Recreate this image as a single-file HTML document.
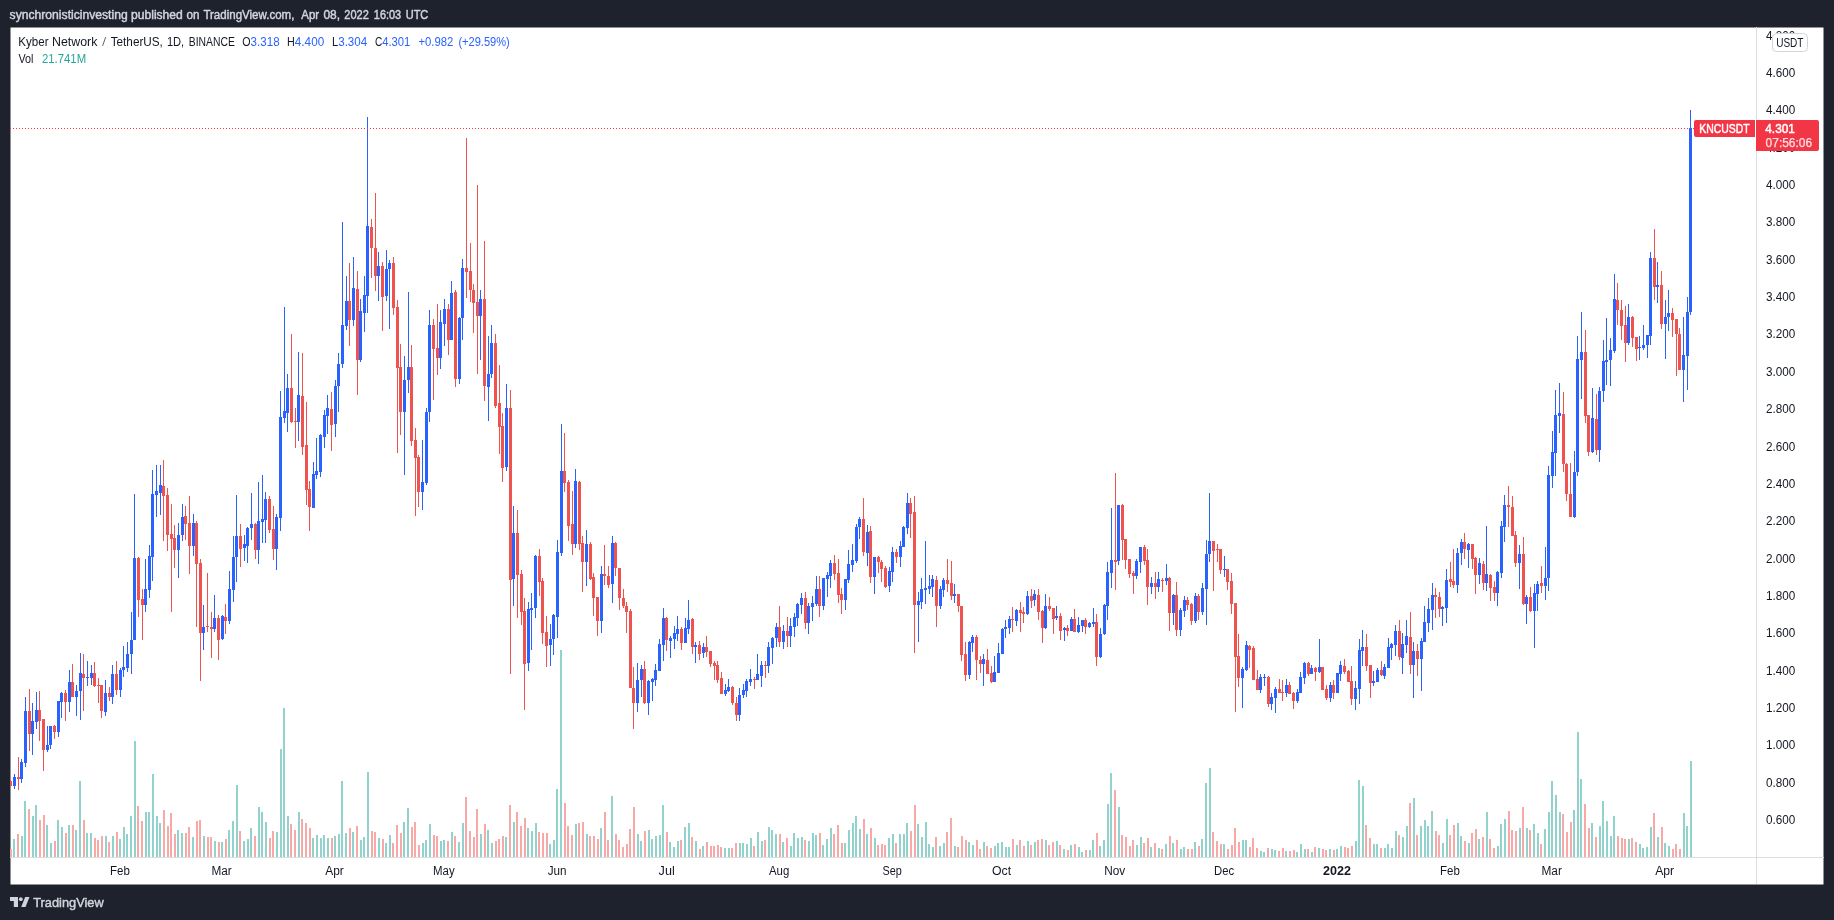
<!DOCTYPE html>
<html><head><meta charset="utf-8"><title>KNCUSDT</title>
<style>
html,body{margin:0;padding:0;background:#1e222d;}
body{width:1834px;height:920px;overflow:hidden;font-family:"Liberation Sans",sans-serif;}
svg{display:block;font-family:"Liberation Sans",sans-serif;}
</style></head><body>
<svg width="1834" height="920" viewBox="0 0 1834 920" style="will-change:transform">
<defs><filter id="gray" x="0" y="0" width="1834" height="920" filterUnits="userSpaceOnUse" color-interpolation-filters="sRGB"><feColorMatrix type="saturate" values="1"/></filter></defs>
<rect x="0" y="0" width="1834" height="920" fill="#1e222d"/>
<rect x="10.5" y="27.5" width="1813" height="857" fill="#ffffff"/>
<g shape-rendering="crispEdges">
<rect x="1756" y="27" width="1" height="857" fill="#dcdde1"/>
<rect x="10" y="857" width="1814" height="1" fill="#dcdde1"/>
<clipPath id="cp"><rect x="10" y="27" width="1746" height="830"/></clipPath>
<g clip-path="url(#cp)">
<path fill="#f7a9a7" d="M10 849h2v8h-2zM17 834h2v23h-2zM28 809h2v48h-2zM39 820h2v37h-2zM43 815h2v42h-2zM54 841h2v16h-2zM65 833h2v24h-2zM72 825h2v32h-2zM83 820h2v37h-2zM94 838h2v19h-2zM97 840h2v17h-2zM101 836h2v21h-2zM108 842h2v15h-2zM116 832h2v25h-2zM137 806h2v51h-2zM141 821h2v36h-2zM163 810h2v47h-2zM167 826h2v31h-2zM170 813h2v44h-2zM174 834h2v23h-2zM185 833h2v24h-2zM188 827h2v30h-2zM196 821h2v36h-2zM199 820h2v37h-2zM207 837h2v20h-2zM210 837h2v20h-2zM218 842h2v15h-2zM225 839h2v18h-2zM239 831h2v26h-2zM254 836h2v21h-2zM269 838h2v19h-2zM272 831h2v26h-2zM290 824h2v33h-2zM294 830h2v27h-2zM301 819h2v38h-2zM305 823h2v34h-2zM309 828h2v29h-2zM331 838h2v19h-2zM349 828h2v29h-2zM356 826h2v31h-2zM371 831h2v26h-2zM374 832h2v25h-2zM382 839h2v18h-2zM392 843h2v14h-2zM396 825h2v32h-2zM400 833h2v24h-2zM411 827h2v30h-2zM414 822h2v35h-2zM418 845h2v12h-2zM433 835h2v22h-2zM436 836h2v21h-2zM447 841h2v16h-2zM454 836h2v21h-2zM465 797h2v60h-2zM469 831h2v26h-2zM473 837h2v20h-2zM476 809h2v48h-2zM484 824h2v33h-2zM495 841h2v16h-2zM498 839h2v18h-2zM502 836h2v21h-2zM509 805h2v52h-2zM516 812h2v45h-2zM520 826h2v31h-2zM524 818h2v39h-2zM538 832h2v25h-2zM542 833h2v24h-2zM546 833h2v24h-2zM564 803h2v54h-2zM567 826h2v31h-2zM571 835h2v22h-2zM578 823h2v34h-2zM582 822h2v35h-2zM589 836h2v21h-2zM593 836h2v21h-2zM597 839h2v18h-2zM604 812h2v45h-2zM607 840h2v17h-2zM615 834h2v23h-2zM618 840h2v17h-2zM622 847h2v10h-2zM626 844h2v13h-2zM629 829h2v28h-2zM633 807h2v50h-2zM644 831h2v26h-2zM666 832h2v25h-2zM680 840h2v17h-2zM691 837h2v20h-2zM699 849h2v8h-2zM706 842h2v15h-2zM710 846h2v11h-2zM713 846h2v11h-2zM717 845h2v12h-2zM720 847h2v10h-2zM731 848h2v9h-2zM735 843h2v14h-2zM753 846h2v11h-2zM764 840h2v17h-2zM779 834h2v23h-2zM786 838h2v19h-2zM804 840h2v17h-2zM819 833h2v24h-2zM833 834h2v23h-2zM837 825h2v32h-2zM841 843h2v14h-2zM863 819h2v38h-2zM870 828h2v29h-2zM877 845h2v12h-2zM881 844h2v13h-2zM884 845h2v12h-2zM895 843h2v14h-2zM910 831h2v26h-2zM914 805h2v52h-2zM935 837h2v20h-2zM946 832h2v25h-2zM950 818h2v39h-2zM957 847h2v10h-2zM961 836h2v21h-2zM965 840h2v17h-2zM976 840h2v17h-2zM979 849h2v8h-2zM986 846h2v11h-2zM990 848h2v9h-2zM1012 839h2v18h-2zM1019 840h2v17h-2zM1023 846h2v11h-2zM1030 845h2v12h-2zM1037 840h2v17h-2zM1041 839h2v18h-2zM1048 845h2v12h-2zM1052 842h2v15h-2zM1059 845h2v12h-2zM1067 850h2v7h-2zM1074 844h2v13h-2zM1085 850h2v7h-2zM1096 833h2v24h-2zM1114 790h2v67h-2zM1121 835h2v22h-2zM1125 837h2v20h-2zM1129 846h2v11h-2zM1132 840h2v17h-2zM1143 843h2v14h-2zM1147 838h2v19h-2zM1154 843h2v14h-2zM1161 849h2v8h-2zM1169 836h2v21h-2zM1176 840h2v17h-2zM1187 849h2v8h-2zM1191 849h2v8h-2zM1198 846h2v11h-2zM1212 832h2v25h-2zM1216 841h2v16h-2zM1220 844h2v13h-2zM1227 849h2v8h-2zM1231 845h2v12h-2zM1234 828h2v29h-2zM1238 842h2v15h-2zM1249 847h2v10h-2zM1252 838h2v19h-2zM1256 848h2v9h-2zM1267 848h2v9h-2zM1278 851h2v6h-2zM1282 848h2v9h-2zM1289 851h2v6h-2zM1293 850h2v7h-2zM1307 849h2v8h-2zM1314 847h2v10h-2zM1322 849h2v8h-2zM1325 850h2v7h-2zM1333 850h2v7h-2zM1344 847h2v10h-2zM1347 848h2v9h-2zM1351 846h2v11h-2zM1365 825h2v32h-2zM1369 838h2v19h-2zM1380 848h2v9h-2zM1398 835h2v22h-2zM1409 803h2v54h-2zM1416 835h2v22h-2zM1435 831h2v26h-2zM1438 835h2v22h-2zM1449 835h2v22h-2zM1453 825h2v32h-2zM1464 841h2v16h-2zM1471 833h2v24h-2zM1475 829h2v28h-2zM1482 837h2v20h-2zM1489 839h2v18h-2zM1493 848h2v9h-2zM1508 811h2v46h-2zM1511 830h2v27h-2zM1515 831h2v26h-2zM1522 807h2v50h-2zM1529 830h2v27h-2zM1540 844h2v13h-2zM1562 814h2v43h-2zM1566 832h2v25h-2zM1570 822h2v35h-2zM1584 804h2v53h-2zM1588 828h2v29h-2zM1595 837h2v20h-2zM1617 836h2v21h-2zM1621 838h2v19h-2zM1624 839h2v18h-2zM1631 838h2v19h-2zM1635 842h2v15h-2zM1653 813h2v44h-2zM1661 827h2v30h-2zM1672 849h2v8h-2zM1675 844h2v13h-2zM1679 849h2v8h-2z"/><path fill="#92d2cc" d="M13 839h2v18h-2zM21 836h2v21h-2zM24 801h2v56h-2zM32 816h2v41h-2zM35 805h2v52h-2zM46 825h2v32h-2zM50 843h2v14h-2zM57 820h2v37h-2zM61 827h2v30h-2zM68 825h2v32h-2zM75 830h2v27h-2zM79 781h2v76h-2zM86 833h2v24h-2zM90 833h2v24h-2zM105 836h2v21h-2zM112 836h2v21h-2zM119 839h2v18h-2zM123 827h2v30h-2zM126 834h2v23h-2zM130 816h2v41h-2zM134 741h2v116h-2zM145 812h2v45h-2zM148 812h2v45h-2zM152 774h2v83h-2zM156 816h2v41h-2zM159 823h2v34h-2zM177 830h2v27h-2zM181 833h2v24h-2zM192 837h2v20h-2zM203 836h2v21h-2zM214 841h2v16h-2zM221 842h2v15h-2zM228 830h2v27h-2zM232 821h2v36h-2zM236 785h2v72h-2zM243 841h2v16h-2zM247 839h2v18h-2zM250 828h2v29h-2zM258 807h2v50h-2zM261 812h2v45h-2zM265 822h2v35h-2zM276 832h2v25h-2zM280 749h2v108h-2zM283 708h2v149h-2zM287 816h2v41h-2zM298 812h2v45h-2zM312 838h2v19h-2zM316 835h2v22h-2zM320 838h2v19h-2zM323 835h2v22h-2zM327 838h2v19h-2zM334 836h2v21h-2zM338 834h2v23h-2zM341 781h2v76h-2zM345 833h2v24h-2zM352 832h2v25h-2zM360 840h2v17h-2zM363 837h2v20h-2zM367 772h2v85h-2zM378 838h2v19h-2zM385 843h2v14h-2zM389 835h2v22h-2zM403 822h2v35h-2zM407 808h2v49h-2zM422 843h2v14h-2zM425 840h2v17h-2zM429 824h2v33h-2zM440 841h2v16h-2zM443 840h2v17h-2zM451 832h2v25h-2zM458 842h2v15h-2zM462 823h2v34h-2zM480 834h2v23h-2zM487 830h2v27h-2zM491 843h2v14h-2zM505 837h2v20h-2zM513 822h2v35h-2zM527 828h2v29h-2zM531 831h2v26h-2zM535 823h2v34h-2zM549 844h2v13h-2zM553 840h2v17h-2zM556 789h2v68h-2zM560 650h2v207h-2zM575 824h2v33h-2zM586 834h2v23h-2zM600 828h2v29h-2zM611 796h2v61h-2zM637 834h2v23h-2zM640 841h2v16h-2zM648 830h2v27h-2zM651 839h2v18h-2zM655 836h2v21h-2zM659 835h2v22h-2zM662 805h2v52h-2zM669 842h2v15h-2zM673 847h2v10h-2zM677 841h2v16h-2zM684 827h2v30h-2zM688 823h2v34h-2zM695 841h2v16h-2zM702 846h2v11h-2zM724 848h2v9h-2zM728 848h2v9h-2zM739 843h2v14h-2zM742 843h2v14h-2zM746 844h2v13h-2zM750 838h2v19h-2zM757 832h2v25h-2zM761 841h2v16h-2zM768 827h2v30h-2zM771 830h2v27h-2zM775 834h2v23h-2zM782 842h2v15h-2zM790 846h2v11h-2zM793 833h2v24h-2zM797 838h2v19h-2zM801 837h2v20h-2zM808 841h2v16h-2zM812 833h2v24h-2zM815 835h2v22h-2zM822 845h2v12h-2zM826 839h2v18h-2zM830 828h2v29h-2zM844 843h2v14h-2zM848 830h2v27h-2zM852 823h2v34h-2zM855 816h2v41h-2zM859 829h2v28h-2zM866 834h2v23h-2zM874 838h2v19h-2zM888 838h2v19h-2zM892 834h2v23h-2zM899 834h2v23h-2zM903 834h2v23h-2zM906 823h2v34h-2zM917 824h2v33h-2zM921 837h2v20h-2zM925 822h2v35h-2zM928 844h2v13h-2zM932 847h2v10h-2zM939 846h2v11h-2zM943 843h2v14h-2zM954 846h2v11h-2zM968 842h2v15h-2zM972 845h2v12h-2zM983 842h2v15h-2zM994 846h2v11h-2zM997 843h2v14h-2zM1001 842h2v15h-2zM1005 847h2v10h-2zM1008 847h2v10h-2zM1016 845h2v12h-2zM1027 841h2v16h-2zM1034 842h2v15h-2zM1045 840h2v17h-2zM1056 841h2v16h-2zM1063 849h2v8h-2zM1070 845h2v12h-2zM1078 847h2v10h-2zM1081 852h2v5h-2zM1089 850h2v7h-2zM1092 840h2v17h-2zM1099 846h2v11h-2zM1103 840h2v17h-2zM1107 804h2v53h-2zM1110 773h2v84h-2zM1118 807h2v50h-2zM1136 845h2v12h-2zM1140 837h2v20h-2zM1150 847h2v10h-2zM1158 848h2v9h-2zM1165 844h2v13h-2zM1172 843h2v14h-2zM1180 849h2v8h-2zM1183 847h2v10h-2zM1194 842h2v15h-2zM1201 839h2v18h-2zM1205 783h2v74h-2zM1209 768h2v89h-2zM1223 844h2v13h-2zM1242 840h2v17h-2zM1245 840h2v17h-2zM1260 851h2v6h-2zM1263 852h2v5h-2zM1271 849h2v8h-2zM1274 850h2v7h-2zM1285 851h2v6h-2zM1296 852h2v5h-2zM1300 844h2v13h-2zM1304 849h2v8h-2zM1311 852h2v5h-2zM1318 848h2v9h-2zM1329 849h2v8h-2zM1336 849h2v8h-2zM1340 846h2v11h-2zM1355 841h2v16h-2zM1358 780h2v77h-2zM1362 786h2v71h-2zM1373 844h2v13h-2zM1376 844h2v13h-2zM1384 848h2v9h-2zM1387 844h2v13h-2zM1391 848h2v9h-2zM1395 831h2v26h-2zM1402 837h2v20h-2zM1406 826h2v31h-2zM1413 798h2v59h-2zM1420 826h2v31h-2zM1424 820h2v37h-2zM1427 826h2v31h-2zM1431 811h2v46h-2zM1442 843h2v14h-2zM1446 819h2v38h-2zM1457 823h2v34h-2zM1460 836h2v21h-2zM1468 843h2v14h-2zM1478 839h2v18h-2zM1486 812h2v45h-2zM1497 846h2v11h-2zM1500 824h2v33h-2zM1504 819h2v38h-2zM1519 828h2v29h-2zM1526 828h2v29h-2zM1533 824h2v33h-2zM1537 833h2v24h-2zM1544 829h2v28h-2zM1548 812h2v45h-2zM1551 781h2v76h-2zM1555 795h2v62h-2zM1559 812h2v45h-2zM1573 810h2v47h-2zM1577 732h2v125h-2zM1580 779h2v78h-2zM1591 823h2v34h-2zM1599 826h2v31h-2zM1602 801h2v56h-2zM1606 821h2v36h-2zM1610 836h2v21h-2zM1613 816h2v41h-2zM1628 839h2v18h-2zM1639 844h2v13h-2zM1642 848h2v9h-2zM1646 847h2v10h-2zM1650 827h2v30h-2zM1657 837h2v20h-2zM1664 843h2v14h-2zM1668 846h2v11h-2zM1683 813h2v44h-2zM1686 826h2v31h-2zM1690 761h2v96h-2z"/><path fill="#ef5350" d="M10 780h1v6h-1zM9 781h3v5h-3zM18 757h1v33h-1zM17 777h3v2h-3zM29 689h1v62h-1zM28 711h3v23h-3zM39 691h1v50h-1zM38 710h3v11h-3zM43 719h1v52h-1zM42 719h3v31h-3zM54 725h1v14h-1zM53 726h3v6h-3zM65 690h1v31h-1zM64 693h3v9h-3zM72 664h1v33h-1zM71 682h3v15h-3zM83 654h1v57h-1zM82 674h3v4h-3zM94 662h1v25h-1zM93 673h3v13h-3zM98 678h1v25h-1zM97 685h3v1h-3zM101 685h1v33h-1zM100 685h3v26h-3zM109 687h1v14h-1zM108 693h3v4h-3zM116 661h1v34h-1zM115 674h3v16h-3zM138 557h1v60h-1zM137 558h3v42h-3zM142 589h1v51h-1zM141 599h3v6h-3zM163 460h1v81h-1zM162 486h3v10h-3zM167 488h1v63h-1zM166 495h3v40h-3zM171 504h1v108h-1zM170 534h3v5h-3zM174 525h1v43h-1zM173 538h3v12h-3zM185 506h1v34h-1zM184 516h3v8h-3zM189 496h1v78h-1zM188 523h3v23h-3zM196 521h1v106h-1zM195 523h3v41h-3zM200 559h1v122h-1zM199 563h3v70h-3zM207 573h1v59h-1zM206 626h3v1h-3zM211 612h1v46h-1zM210 627h3v2h-3zM218 615h1v45h-1zM217 618h3v22h-3zM225 604h1v30h-1zM224 617h3v4h-3zM240 524h1v43h-1zM239 536h3v13h-3zM255 523h1v36h-1zM254 524h3v26h-3zM269 496h1v37h-1zM268 499h3v31h-3zM273 506h1v54h-1zM272 529h3v20h-3zM291 334h1v89h-1zM290 388h3v34h-3zM295 408h1v40h-1zM294 421h3v1h-3zM302 353h1v102h-1zM301 396h3v51h-3zM306 402h1v103h-1zM305 445h3v45h-3zM309 481h1v50h-1zM308 489h3v18h-3zM331 392h1v59h-1zM330 409h3v16h-3zM349 263h1v83h-1zM348 301h3v19h-3zM357 271h1v124h-1zM356 289h3v71h-3zM371 219h1v59h-1zM370 227h3v21h-3zM375 193h1v98h-1zM374 248h3v28h-3zM382 262h1v69h-1zM381 266h3v31h-3zM393 257h1v58h-1zM392 263h3v45h-3zM397 300h1v153h-1zM396 307h3v61h-3zM400 344h1v91h-1zM399 367h3v45h-3zM411 345h1v101h-1zM410 367h3v74h-3zM415 428h1v88h-1zM414 440h3v18h-3zM418 455h1v52h-1zM417 457h3v35h-3zM433 319h1v81h-1zM432 325h3v24h-3zM437 304h1v71h-1zM436 348h3v10h-3zM448 304h1v51h-1zM447 309h3v31h-3zM455 290h1v97h-1zM454 292h3v87h-3zM466 138h1v160h-1zM465 268h3v4h-3zM470 243h1v59h-1zM469 271h3v19h-3zM473 284h1v49h-1zM472 290h3v13h-3zM477 185h1v189h-1zM476 302h3v14h-3zM484 241h1v160h-1zM483 299h3v87h-3zM495 334h1v74h-1zM494 343h3v63h-3zM499 365h1v89h-1zM498 403h3v24h-3zM502 413h1v69h-1zM501 426h3v42h-3zM510 390h1v284h-1zM509 408h3v172h-3zM517 510h1v108h-1zM516 533h3v42h-3zM521 570h1v55h-1zM520 574h3v38h-3zM524 598h1v112h-1zM523 611h3v53h-3zM539 549h1v47h-1zM538 556h3v26h-3zM542 578h1v66h-1zM541 581h3v52h-3zM546 616h1v51h-1zM545 632h3v14h-3zM564 433h1v59h-1zM563 471h3v12h-3zM568 480h1v61h-1zM567 482h3v44h-3zM572 491h1v64h-1zM571 524h3v20h-3zM579 481h1v69h-1zM578 482h3v62h-3zM582 536h1v56h-1zM581 543h3v19h-3zM590 542h1v38h-1zM589 544h3v35h-3zM593 573h1v43h-1zM592 577h3v21h-3zM597 597h1v39h-1zM596 597h3v24h-3zM604 545h1v40h-1zM603 574h3v2h-3zM608 566h1v22h-1zM607 576h3v9h-3zM615 542h1v34h-1zM614 543h3v25h-3zM619 568h1v42h-1zM618 568h3v30h-3zM623 589h1v19h-1zM622 598h3v8h-3zM626 602h1v31h-1zM625 606h3v6h-3zM630 609h1v79h-1zM629 611h3v77h-3zM633 667h1v62h-1zM632 688h3v15h-3zM644 661h1v43h-1zM643 669h3v34h-3zM666 617h1v34h-1zM665 618h3v22h-3zM681 627h1v23h-1zM680 629h3v14h-3zM692 618h1v36h-1zM691 619h3v28h-3zM699 641h1v19h-1zM698 645h3v9h-3zM706 636h1v21h-1zM705 647h3v5h-3zM710 651h1v16h-1zM709 651h3v13h-3zM714 661h1v19h-1zM713 663h3v3h-3zM717 661h1v22h-1zM716 665h3v15h-3zM721 672h1v22h-1zM720 678h3v16h-3zM732 686h1v19h-1zM731 687h3v16h-3zM736 697h1v24h-1zM735 703h3v12h-3zM754 677h1v12h-1zM753 679h3v1h-3zM765 661h1v17h-1zM764 665h3v1h-3zM779 606h1v41h-1zM778 627h3v15h-3zM787 617h1v30h-1zM786 631h3v5h-3zM805 592h1v37h-1zM804 598h3v25h-3zM819 576h1v41h-1zM818 589h3v17h-3zM834 555h1v25h-1zM833 563h3v11h-3zM838 559h1v44h-1zM837 573h3v22h-3zM841 588h1v26h-1zM840 594h3v6h-3zM863 498h1v58h-1zM862 519h3v33h-3zM870 526h1v57h-1zM869 531h3v46h-3zM878 556h1v17h-1zM877 557h3v5h-3zM881 560h1v22h-1zM880 562h3v7h-3zM885 566h1v22h-1zM884 568h3v19h-3zM896 549h1v14h-1zM895 552h3v5h-3zM910 498h1v40h-1zM909 503h3v11h-3zM914 496h1v157h-1zM913 512h3v93h-3zM936 576h1v51h-1zM935 580h3v26h-3zM947 559h1v33h-1zM946 580h3v4h-3zM951 561h1v39h-1zM950 583h3v13h-3zM958 594h1v18h-1zM957 594h3v12h-3zM961 606h1v55h-1zM960 606h3v49h-3zM965 642h1v39h-1zM964 654h3v21h-3zM976 635h1v45h-1zM975 637h3v23h-3zM980 656h1v17h-1zM979 660h3v4h-3zM987 649h1v25h-1zM986 660h3v14h-3zM991 666h1v17h-1zM990 673h3v9h-3zM1012 607h1v25h-1zM1011 619h3v1h-3zM1020 602h1v30h-1zM1019 610h3v3h-3zM1023 607h1v16h-1zM1022 612h3v2h-3zM1031 589h1v19h-1zM1030 596h3v5h-3zM1038 589h1v31h-1zM1037 595h3v17h-3zM1042 610h1v33h-1zM1041 611h3v17h-3zM1049 597h1v14h-1zM1048 606h3v3h-3zM1053 608h1v26h-1zM1052 608h3v11h-3zM1060 613h1v27h-1zM1059 616h3v15h-3zM1067 625h1v11h-1zM1066 628h3v3h-3zM1074 609h1v23h-1zM1073 619h3v13h-3zM1085 618h1v16h-1zM1084 620h3v7h-3zM1096 614h1v52h-1zM1095 622h3v35h-3zM1115 473h1v117h-1zM1114 560h3v2h-3zM1122 504h1v56h-1zM1121 505h3v35h-3zM1125 539h1v30h-1zM1124 539h3v21h-3zM1129 559h1v19h-1zM1128 559h3v15h-3zM1133 571h1v23h-1zM1132 573h3v3h-3zM1144 545h1v20h-1zM1143 547h3v14h-3zM1147 549h1v56h-1zM1146 560h3v27h-3zM1155 572h1v27h-1zM1154 583h3v4h-3zM1162 578h1v14h-1zM1161 580h3v1h-3zM1169 577h1v54h-1zM1168 578h3v35h-3zM1176 582h1v54h-1zM1175 595h3v35h-3zM1187 597h1v13h-1zM1186 600h3v5h-3zM1191 603h1v22h-1zM1190 604h3v17h-3zM1198 594h1v26h-1zM1197 596h3v16h-3zM1213 541h1v50h-1zM1212 541h3v10h-3zM1217 544h1v18h-1zM1216 549h3v1h-3zM1220 549h1v25h-1zM1219 549h3v21h-3zM1227 569h1v21h-1zM1226 569h3v13h-3zM1231 573h1v41h-1zM1230 581h3v23h-3zM1235 603h1v109h-1zM1234 603h3v54h-3zM1238 634h1v53h-1zM1237 656h3v22h-3zM1249 645h1v23h-1zM1248 646h3v4h-3zM1253 646h1v34h-1zM1252 648h3v32h-3zM1257 670h1v20h-1zM1256 679h3v11h-3zM1268 676h1v31h-1zM1267 677h3v27h-3zM1279 679h1v14h-1zM1278 689h3v4h-3zM1282 680h1v21h-1zM1281 692h3v1h-3zM1289 682h1v12h-1zM1288 685h3v9h-3zM1293 692h1v17h-1zM1292 693h3v8h-3zM1308 662h1v14h-1zM1307 663h3v11h-3zM1315 667h1v14h-1zM1314 668h3v4h-3zM1322 667h1v23h-1zM1321 667h3v23h-3zM1326 685h1v15h-1zM1325 689h3v9h-3zM1333 680h1v19h-1zM1332 685h3v8h-3zM1344 659h1v15h-1zM1343 666h3v6h-3zM1348 670h1v12h-1zM1347 671h3v11h-3zM1351 666h1v39h-1zM1350 681h3v18h-3zM1366 634h1v37h-1zM1365 647h3v19h-3zM1370 665h1v33h-1zM1369 665h3v18h-3zM1381 661h1v15h-1zM1380 670h3v5h-3zM1399 620h1v40h-1zM1398 631h3v26h-3zM1410 612h1v62h-1zM1409 637h3v28h-3zM1417 644h1v32h-1zM1416 651h3v8h-3zM1435 588h1v30h-1zM1434 595h3v2h-3zM1439 592h1v25h-1zM1438 597h3v12h-3zM1450 562h1v25h-1zM1449 579h3v3h-3zM1453 549h1v39h-1zM1452 581h3v4h-3zM1464 533h1v26h-1zM1463 542h3v7h-3zM1472 544h1v25h-1zM1471 544h3v15h-3zM1475 557h1v37h-1zM1474 558h3v17h-3zM1483 561h1v29h-1zM1482 564h3v19h-3zM1490 574h1v27h-1zM1489 575h3v13h-3zM1494 581h1v20h-1zM1493 587h3v6h-3zM1508 486h1v41h-1zM1507 505h3v2h-3zM1512 496h1v40h-1zM1511 507h3v29h-3zM1515 531h1v36h-1zM1514 535h3v28h-3zM1523 537h1v68h-1zM1522 554h3v50h-3zM1530 587h1v25h-1zM1529 597h3v14h-3zM1541 566h1v27h-1zM1540 583h3v3h-3zM1563 392h1v80h-1zM1562 414h3v50h-3zM1566 463h1v38h-1zM1565 464h3v30h-3zM1570 463h1v54h-1zM1569 494h3v23h-3zM1585 330h1v93h-1zM1584 352h3v64h-3zM1588 415h1v41h-1zM1587 415h3v37h-3zM1596 394h1v61h-1zM1595 419h3v31h-3zM1617 283h1v42h-1zM1616 300h3v10h-3zM1621 300h1v40h-1zM1620 310h3v16h-3zM1625 306h1v56h-1zM1624 325h3v18h-3zM1632 316h1v31h-1zM1631 317h3v21h-3zM1636 337h1v24h-1zM1635 337h3v12h-3zM1654 229h1v71h-1zM1653 258h3v29h-3zM1661 271h1v58h-1zM1660 285h3v39h-3zM1672 308h1v29h-1zM1671 313h3v7h-3zM1676 319h1v57h-1zM1675 319h3v15h-3zM1679 328h1v42h-1zM1678 334h3v36h-3z"/><path fill="#2962ff" d="M14 774h1v15h-1zM13 777h3v9h-3zM21 759h1v24h-1zM20 762h3v17h-3zM25 697h1v70h-1zM24 711h3v52h-3zM32 703h1v52h-1zM31 721h3v13h-3zM36 692h1v37h-1zM35 710h3v12h-3zM47 726h1v26h-1zM46 745h3v5h-3zM50 726h1v23h-1zM49 726h3v19h-3zM58 701h1v36h-1zM57 701h3v31h-3zM61 692h1v26h-1zM60 693h3v9h-3zM69 670h1v42h-1zM68 682h3v20h-3zM76 685h1v31h-1zM75 691h3v6h-3zM80 653h1v67h-1zM79 673h3v18h-3zM87 661h1v25h-1zM86 677h3v1h-3zM91 665h1v20h-1zM90 673h3v5h-3zM105 680h1v36h-1zM104 693h3v19h-3zM112 665h1v39h-1zM111 674h3v23h-3zM120 668h1v29h-1zM119 670h3v20h-3zM123 646h1v31h-1zM122 667h3v3h-3zM127 642h1v30h-1zM126 654h3v14h-3zM131 612h1v62h-1zM130 640h3v14h-3zM134 494h1v146h-1zM133 558h3v82h-3zM145 559h1v53h-1zM144 589h3v16h-3zM149 545h1v53h-1zM148 556h3v34h-3zM152 470h1v111h-1zM151 494h3v63h-3zM156 465h1v52h-1zM155 491h3v4h-3zM160 465h1v50h-1zM159 485h3v8h-3zM178 523h1v55h-1zM177 535h3v15h-3zM182 504h1v37h-1zM181 517h3v18h-3zM193 514h1v42h-1zM192 523h3v23h-3zM203 605h1v45h-1zM202 627h3v6h-3zM214 595h1v37h-1zM213 618h3v11h-3zM222 615h1v25h-1zM221 616h3v23h-3zM229 571h1v53h-1zM228 589h3v32h-3zM233 536h1v66h-1zM232 557h3v33h-3zM236 495h1v87h-1zM235 536h3v21h-3zM244 535h1v26h-1zM243 544h3v4h-3zM247 527h1v36h-1zM246 528h3v18h-3zM251 493h1v47h-1zM250 524h3v4h-3zM258 482h1v82h-1zM257 521h3v29h-3zM262 475h1v68h-1zM261 519h3v3h-3zM265 492h1v51h-1zM264 499h3v21h-3zM276 514h1v56h-1zM275 517h3v32h-3zM280 391h1v140h-1zM279 417h3v101h-3zM284 307h1v116h-1zM283 411h3v7h-3zM287 374h1v58h-1zM286 388h3v25h-3zM298 352h1v89h-1zM297 395h3v27h-3zM313 462h1v46h-1zM312 474h3v34h-3zM316 438h1v41h-1zM315 471h3v4h-3zM320 434h1v43h-1zM319 435h3v37h-3zM324 410h1v38h-1zM323 415h3v22h-3zM327 395h1v39h-1zM326 408h3v8h-3zM335 380h1v57h-1zM334 386h3v38h-3zM338 353h1v59h-1zM337 364h3v22h-3zM342 222h1v146h-1zM341 325h3v39h-3zM346 276h1v54h-1zM345 301h3v25h-3zM353 257h1v69h-1zM352 288h3v32h-3zM360 299h1v63h-1zM359 311h3v49h-3zM364 276h1v56h-1zM363 295h3v18h-3zM367 117h1v196h-1zM366 226h3v70h-3zM378 252h1v49h-1zM377 266h3v10h-3zM386 250h1v51h-1zM385 269h3v27h-3zM389 260h1v69h-1zM388 263h3v6h-3zM404 356h1v119h-1zM403 380h3v32h-3zM408 292h1v101h-1zM407 367h3v13h-3zM422 440h1v70h-1zM421 482h3v10h-3zM426 408h1v77h-1zM425 412h3v71h-3zM429 310h1v112h-1zM428 325h3v87h-3zM440 310h1v59h-1zM439 322h3v36h-3zM444 299h1v47h-1zM443 309h3v15h-3zM451 281h1v59h-1zM450 293h3v47h-3zM459 317h1v67h-1zM458 318h3v61h-3zM462 259h1v81h-1zM461 268h3v50h-3zM480 290h1v70h-1zM479 299h3v17h-3zM488 336h1v85h-1zM487 374h3v13h-3zM491 325h1v53h-1zM490 343h3v31h-3zM506 384h1v87h-1zM505 408h3v59h-3zM513 506h1v100h-1zM512 533h3v46h-3zM528 602h1v69h-1zM527 609h3v54h-3zM531 593h1v57h-1zM530 608h3v2h-3zM535 555h1v63h-1zM534 556h3v52h-3zM550 624h1v42h-1zM549 639h3v6h-3zM553 614h1v41h-1zM552 615h3v24h-3zM557 540h1v98h-1zM556 552h3v65h-3zM561 424h1v132h-1zM560 471h3v82h-3zM575 469h1v79h-1zM574 481h3v63h-3zM586 530h1v56h-1zM585 544h3v18h-3zM601 566h1v67h-1zM600 574h3v47h-3zM612 536h1v67h-1zM611 543h3v41h-3zM637 663h1v49h-1zM636 680h3v23h-3zM641 665h1v32h-1zM640 669h3v11h-3zM648 680h1v35h-1zM647 681h3v22h-3zM652 678h1v23h-1zM651 679h3v3h-3zM655 664h1v22h-1zM654 670h3v10h-3zM659 639h1v32h-1zM658 644h3v27h-3zM663 608h1v53h-1zM662 618h3v27h-3zM670 636h1v22h-1zM669 638h3v3h-3zM674 626h1v23h-1zM673 633h3v6h-3zM677 616h1v25h-1zM676 629h3v5h-3zM685 618h1v25h-1zM684 628h3v15h-3zM688 600h1v34h-1zM687 620h3v9h-3zM695 642h1v21h-1zM694 645h3v2h-3zM703 643h1v15h-1zM702 647h3v6h-3zM725 684h1v12h-1zM724 690h3v4h-3zM728 679h1v13h-1zM727 687h3v4h-3zM739 688h1v33h-1zM738 695h3v20h-3zM743 684h1v14h-1zM742 690h3v5h-3zM746 679h1v18h-1zM745 681h3v10h-3zM750 669h1v17h-1zM749 679h3v3h-3zM757 654h1v26h-1zM756 674h3v6h-3zM761 661h1v26h-1zM760 665h3v11h-3zM768 642h1v31h-1zM767 647h3v19h-3zM772 637h1v27h-1zM771 638h3v10h-3zM776 623h1v24h-1zM775 627h3v11h-3zM783 625h1v24h-1zM782 631h3v11h-3zM790 618h1v29h-1zM789 626h3v10h-3zM794 613h1v24h-1zM793 617h3v10h-3zM797 603h1v23h-1zM796 604h3v14h-3zM801 593h1v21h-1zM800 598h3v7h-3zM808 603h1v31h-1zM807 606h3v17h-3zM812 596h1v25h-1zM811 603h3v4h-3zM816 576h1v30h-1zM815 589h3v15h-3zM823 578h1v32h-1zM822 578h3v28h-3zM827 572h1v25h-1zM826 575h3v4h-3zM830 560h1v28h-1zM829 563h3v13h-3zM845 579h1v31h-1zM844 579h3v21h-3zM848 550h1v33h-1zM847 564h3v16h-3zM852 544h1v28h-1zM851 560h3v5h-3zM856 524h1v39h-1zM855 527h3v34h-3zM859 517h1v22h-1zM858 519h3v8h-3zM867 525h1v41h-1zM866 532h3v21h-3zM874 557h1v37h-1zM873 557h3v20h-3zM889 567h1v25h-1zM888 571h3v15h-3zM892 547h1v35h-1zM891 552h3v20h-3zM900 541h1v26h-1zM899 546h3v11h-3zM903 526h1v21h-1zM902 527h3v20h-3zM907 493h1v41h-1zM906 503h3v25h-3zM918 592h1v50h-1zM917 601h3v4h-3zM921 578h1v31h-1zM920 589h3v13h-3zM925 541h1v63h-1zM924 588h3v2h-3zM929 575h1v19h-1zM928 586h3v3h-3zM932 575h1v22h-1zM931 579h3v8h-3zM940 586h1v23h-1zM939 589h3v17h-3zM943 578h1v19h-1zM942 580h3v10h-3zM954 584h1v19h-1zM953 594h3v2h-3zM969 641h1v38h-1zM968 642h3v33h-3zM972 635h1v17h-1zM971 637h3v6h-3zM983 654h1v32h-1zM982 659h3v5h-3zM994 656h1v26h-1zM993 672h3v10h-3zM998 643h1v30h-1zM997 653h3v20h-3zM1002 628h1v26h-1zM1001 629h3v25h-3zM1005 620h1v18h-1zM1004 627h3v2h-3zM1009 616h1v18h-1zM1008 619h3v9h-3zM1016 609h1v17h-1zM1015 610h3v11h-3zM1027 591h1v24h-1zM1026 596h3v18h-3zM1034 590h1v16h-1zM1033 594h3v6h-3zM1045 594h1v35h-1zM1044 606h3v22h-3zM1056 606h1v14h-1zM1055 616h3v2h-3zM1064 627h1v14h-1zM1063 628h3v2h-3zM1071 617h1v14h-1zM1070 619h3v12h-3zM1078 617h1v16h-1zM1077 625h3v7h-3zM1082 620h1v12h-1zM1081 620h3v6h-3zM1089 622h1v6h-1zM1088 623h3v4h-3zM1093 608h1v19h-1zM1092 622h3v2h-3zM1100 628h1v30h-1zM1099 634h3v23h-3zM1104 604h1v31h-1zM1103 605h3v29h-3zM1107 562h1v58h-1zM1106 572h3v34h-3zM1111 508h1v80h-1zM1110 560h3v13h-3zM1118 505h1v60h-1zM1117 505h3v56h-3zM1136 559h1v20h-1zM1135 561h3v15h-3zM1140 547h1v26h-1zM1139 547h3v15h-3zM1151 577h1v17h-1zM1150 583h3v4h-3zM1158 572h1v20h-1zM1157 579h3v8h-3zM1166 564h1v21h-1zM1165 578h3v3h-3zM1173 594h1v31h-1zM1172 595h3v18h-3zM1180 608h1v28h-1zM1179 610h3v20h-3zM1184 596h1v21h-1zM1183 600h3v11h-3zM1195 593h1v30h-1zM1194 596h3v25h-3zM1202 583h1v32h-1zM1201 588h3v24h-3zM1206 540h1v85h-1zM1205 554h3v35h-3zM1209 493h1v69h-1zM1208 541h3v13h-3zM1224 556h1v21h-1zM1223 569h3v1h-3zM1242 667h1v41h-1zM1241 669h3v9h-3zM1246 641h1v30h-1zM1245 645h3v25h-3zM1260 674h1v19h-1zM1259 677h3v13h-3zM1264 674h1v12h-1zM1263 677h3v1h-3zM1271 693h1v17h-1zM1270 697h3v7h-3zM1275 687h1v26h-1zM1274 689h3v9h-3zM1286 679h1v18h-1zM1285 685h3v8h-3zM1297 689h1v14h-1zM1296 692h3v9h-3zM1300 672h1v21h-1zM1299 677h3v16h-3zM1304 662h1v22h-1zM1303 663h3v15h-3zM1311 665h1v9h-1zM1310 668h3v6h-3zM1319 639h1v34h-1zM1318 667h3v5h-3zM1330 682h1v20h-1zM1329 685h3v13h-3zM1337 673h1v20h-1zM1336 673h3v20h-3zM1340 661h1v20h-1zM1339 665h3v9h-3zM1355 681h1v29h-1zM1354 688h3v11h-3zM1359 639h1v65h-1zM1358 650h3v39h-3zM1362 630h1v36h-1zM1361 647h3v4h-3zM1373 671h1v15h-1zM1372 681h3v2h-3zM1377 668h1v14h-1zM1376 670h3v12h-3zM1384 664h1v15h-1zM1383 667h3v9h-3zM1388 638h1v30h-1zM1387 647h3v21h-3zM1391 643h1v17h-1zM1390 644h3v4h-3zM1395 625h1v31h-1zM1394 631h3v14h-3zM1402 633h1v41h-1zM1401 644h3v14h-3zM1406 620h1v33h-1zM1405 636h3v9h-3zM1413 642h1v56h-1zM1412 651h3v14h-3zM1421 638h1v53h-1zM1420 641h3v18h-3zM1424 606h1v36h-1zM1423 622h3v20h-3zM1428 598h1v34h-1zM1427 609h3v14h-3zM1432 583h1v47h-1zM1431 595h3v15h-3zM1442 606h1v20h-1zM1441 607h3v2h-3zM1446 569h1v54h-1zM1445 580h3v28h-3zM1457 548h1v45h-1zM1456 553h3v32h-3zM1461 539h1v26h-1zM1460 542h3v11h-3zM1468 543h1v25h-1zM1467 544h3v6h-3zM1479 558h1v26h-1zM1478 563h3v12h-3zM1486 526h1v65h-1zM1485 574h3v9h-3zM1497 571h1v35h-1zM1496 572h3v21h-3zM1501 521h1v57h-1zM1500 526h3v47h-3zM1504 495h1v47h-1zM1503 505h3v22h-3zM1519 545h1v44h-1zM1518 554h3v9h-3zM1526 595h1v29h-1zM1525 597h3v7h-3zM1534 584h1v64h-1zM1533 593h3v18h-3zM1537 581h1v30h-1zM1536 584h3v10h-3zM1545 547h1v53h-1zM1544 578h3v8h-3zM1548 466h1v125h-1zM1547 475h3v103h-3zM1552 431h1v57h-1zM1551 452h3v24h-3zM1555 390h1v86h-1zM1554 415h3v38h-3zM1559 383h1v50h-1zM1558 413h3v3h-3zM1574 451h1v67h-1zM1573 472h3v45h-3zM1577 336h1v140h-1zM1576 359h3v113h-3zM1581 312h1v87h-1zM1580 352h3v8h-3zM1592 388h1v65h-1zM1591 418h3v34h-3zM1599 387h1v75h-1zM1598 391h3v59h-3zM1603 340h1v62h-1zM1602 361h3v30h-3zM1606 318h1v67h-1zM1605 360h3v2h-3zM1610 338h1v48h-1zM1609 350h3v10h-3zM1614 274h1v79h-1zM1613 299h3v52h-3zM1628 304h1v41h-1zM1627 317h3v26h-3zM1639 336h1v24h-1zM1638 347h3v1h-3zM1643 325h1v25h-1zM1642 345h3v3h-3zM1647 335h1v23h-1zM1646 335h3v10h-3zM1650 252h1v93h-1zM1649 258h3v78h-3zM1657 262h1v41h-1zM1656 285h3v2h-3zM1665 300h1v59h-1zM1664 317h3v7h-3zM1668 290h1v41h-1zM1667 313h3v4h-3zM1683 317h1v85h-1zM1682 355h3v15h-3zM1687 297h1v93h-1zM1686 312h3v44h-3zM1690 110h1v205h-1zM1689 128h3v184h-3z"/>
<path d="M10 128.5H1694" stroke="#f23645" stroke-width="1" stroke-dasharray="1 2" fill="none"/>
</g>
</g>
<g filter="url(#gray)">
<!-- header -->
<text x="9.6" y="18.6" font-size="12" fill="#d1d4dc" font-weight="normal" text-anchor="start" textLength="118.1" lengthAdjust="spacingAndGlyphs"  stroke="#d1d4dc" stroke-width="0.45" stroke-linejoin="round">synchronisticinvesting</text><text x="131.0" y="18.6" font-size="12" fill="#d1d4dc" font-weight="normal" text-anchor="start" textLength="51.8" lengthAdjust="spacingAndGlyphs"  stroke="#d1d4dc" stroke-width="0.45" stroke-linejoin="round">published</text><text x="186.6" y="18.6" font-size="12" fill="#d1d4dc" font-weight="normal" text-anchor="start" textLength="13.0" lengthAdjust="spacingAndGlyphs"  stroke="#d1d4dc" stroke-width="0.45" stroke-linejoin="round">on</text><text x="203.4" y="18.6" font-size="12" fill="#d1d4dc" font-weight="normal" text-anchor="start" textLength="91.0" lengthAdjust="spacingAndGlyphs"  stroke="#d1d4dc" stroke-width="0.45" stroke-linejoin="round">TradingView.com,</text><text x="301.3" y="18.6" font-size="12" fill="#d1d4dc" font-weight="normal" text-anchor="start" textLength="17.8" lengthAdjust="spacingAndGlyphs"  stroke="#d1d4dc" stroke-width="0.45" stroke-linejoin="round">Apr</text><text x="323.4" y="18.6" font-size="12" fill="#d1d4dc" font-weight="normal" text-anchor="start" textLength="16.6" lengthAdjust="spacingAndGlyphs"  stroke="#d1d4dc" stroke-width="0.45" stroke-linejoin="round">08,</text><text x="344.3" y="18.6" font-size="12" fill="#d1d4dc" font-weight="normal" text-anchor="start" textLength="24.5" lengthAdjust="spacingAndGlyphs"  stroke="#d1d4dc" stroke-width="0.45" stroke-linejoin="round">2022</text><text x="373.8" y="18.6" font-size="12" fill="#d1d4dc" font-weight="normal" text-anchor="start" textLength="27.4" lengthAdjust="spacingAndGlyphs"  stroke="#d1d4dc" stroke-width="0.45" stroke-linejoin="round">16:03</text><text x="405.7" y="18.6" font-size="12" fill="#d1d4dc" font-weight="normal" text-anchor="start" textLength="22.6" lengthAdjust="spacingAndGlyphs"  stroke="#d1d4dc" stroke-width="0.45" stroke-linejoin="round">UTC</text>
<!-- legend -->
<text x="18.3" y="46" font-size="12" fill="#131722" font-weight="normal" text-anchor="start" textLength="30.2" lengthAdjust="spacingAndGlyphs" >Kyber</text><text x="52.0" y="46" font-size="12" fill="#131722" font-weight="normal" text-anchor="start" textLength="45.4" lengthAdjust="spacingAndGlyphs" >Network</text><text x="110.7" y="46" font-size="12" fill="#131722" font-weight="normal" text-anchor="start" textLength="52.2" lengthAdjust="spacingAndGlyphs" >TetherUS,</text><text x="166.9" y="46" font-size="12" fill="#131722" font-weight="normal" text-anchor="start" textLength="17.3" lengthAdjust="spacingAndGlyphs" >1D,</text><text x="188.8" y="46" font-size="12" fill="#131722" font-weight="normal" text-anchor="start" textLength="46.1" lengthAdjust="spacingAndGlyphs" >BINANCE</text>
<text x="242.3" y="46" font-size="12" fill="#131722" font-weight="normal" text-anchor="start" textLength="8.3" lengthAdjust="spacingAndGlyphs" >O</text><text x="250.6" y="46" font-size="12" fill="#2962ff" font-weight="normal" text-anchor="start" textLength="29" lengthAdjust="spacingAndGlyphs" >3.318</text>
<text x="287" y="46" font-size="12" fill="#131722" font-weight="normal" text-anchor="start" textLength="7.8" lengthAdjust="spacingAndGlyphs" >H</text><text x="294.8" y="46" font-size="12" fill="#2962ff" font-weight="normal" text-anchor="start" textLength="29.4" lengthAdjust="spacingAndGlyphs" >4.400</text>
<text x="332" y="46" font-size="12" fill="#131722" font-weight="normal" text-anchor="start" textLength="6.2" lengthAdjust="spacingAndGlyphs" >L</text><text x="338.2" y="46" font-size="12" fill="#2962ff" font-weight="normal" text-anchor="start" textLength="29" lengthAdjust="spacingAndGlyphs" >3.304</text>
<text x="374.9" y="46" font-size="12" fill="#131722" font-weight="normal" text-anchor="start" textLength="7.3" lengthAdjust="spacingAndGlyphs" >C</text><text x="382.2" y="46" font-size="12" fill="#2962ff" font-weight="normal" text-anchor="start" textLength="28.2" lengthAdjust="spacingAndGlyphs" >4.301</text>
<text x="418.4" y="46" font-size="12" fill="#2962ff" font-weight="normal" text-anchor="start" textLength="34.9" lengthAdjust="spacingAndGlyphs" >+0.982</text><text x="458.4" y="46" font-size="12" fill="#2962ff" font-weight="normal" text-anchor="start" textLength="51.4" lengthAdjust="spacingAndGlyphs" >(+29.59%)</text>
<text x="18.5" y="62.8" font-size="12" fill="#131722" font-weight="normal" text-anchor="start" textLength="15" lengthAdjust="spacingAndGlyphs" >Vol</text>
<text x="41.9" y="62.8" font-size="12" fill="#26a69a" font-weight="normal" text-anchor="start" textLength="44.2" lengthAdjust="spacingAndGlyphs" >21.741M</text>
<path d="M102.6 45.8L105.7 37.1" stroke="#131722" stroke-width="0.8" stroke-opacity="0.85" fill="none"/>
<!-- axis labels -->
<text x="1766" y="39.5" font-size="12" fill="#131722" font-weight="normal" text-anchor="start" textLength="29.3" lengthAdjust="spacingAndGlyphs" >4.800</text><text x="1766" y="76.9" font-size="12" fill="#131722" font-weight="normal" text-anchor="start" textLength="29.3" lengthAdjust="spacingAndGlyphs" >4.600</text><text x="1766" y="114.3" font-size="12" fill="#131722" font-weight="normal" text-anchor="start" textLength="29.3" lengthAdjust="spacingAndGlyphs" >4.400</text><text x="1766" y="151.6" font-size="12" fill="#131722" font-weight="normal" text-anchor="start" textLength="29.3" lengthAdjust="spacingAndGlyphs" >4.200</text><text x="1766" y="189.0" font-size="12" fill="#131722" font-weight="normal" text-anchor="start" textLength="29.3" lengthAdjust="spacingAndGlyphs" >4.000</text><text x="1766" y="226.3" font-size="12" fill="#131722" font-weight="normal" text-anchor="start" textLength="29.3" lengthAdjust="spacingAndGlyphs" >3.800</text><text x="1766" y="263.7" font-size="12" fill="#131722" font-weight="normal" text-anchor="start" textLength="29.3" lengthAdjust="spacingAndGlyphs" >3.600</text><text x="1766" y="301.1" font-size="12" fill="#131722" font-weight="normal" text-anchor="start" textLength="29.3" lengthAdjust="spacingAndGlyphs" >3.400</text><text x="1766" y="338.4" font-size="12" fill="#131722" font-weight="normal" text-anchor="start" textLength="29.3" lengthAdjust="spacingAndGlyphs" >3.200</text><text x="1766" y="375.8" font-size="12" fill="#131722" font-weight="normal" text-anchor="start" textLength="29.3" lengthAdjust="spacingAndGlyphs" >3.000</text><text x="1766" y="413.1" font-size="12" fill="#131722" font-weight="normal" text-anchor="start" textLength="29.3" lengthAdjust="spacingAndGlyphs" >2.800</text><text x="1766" y="450.5" font-size="12" fill="#131722" font-weight="normal" text-anchor="start" textLength="29.3" lengthAdjust="spacingAndGlyphs" >2.600</text><text x="1766" y="487.9" font-size="12" fill="#131722" font-weight="normal" text-anchor="start" textLength="29.3" lengthAdjust="spacingAndGlyphs" >2.400</text><text x="1766" y="525.2" font-size="12" fill="#131722" font-weight="normal" text-anchor="start" textLength="29.3" lengthAdjust="spacingAndGlyphs" >2.200</text><text x="1766" y="562.6" font-size="12" fill="#131722" font-weight="normal" text-anchor="start" textLength="29.3" lengthAdjust="spacingAndGlyphs" >2.000</text><text x="1766" y="599.9" font-size="12" fill="#131722" font-weight="normal" text-anchor="start" textLength="29.3" lengthAdjust="spacingAndGlyphs" >1.800</text><text x="1766" y="637.3" font-size="12" fill="#131722" font-weight="normal" text-anchor="start" textLength="29.3" lengthAdjust="spacingAndGlyphs" >1.600</text><text x="1766" y="674.7" font-size="12" fill="#131722" font-weight="normal" text-anchor="start" textLength="29.3" lengthAdjust="spacingAndGlyphs" >1.400</text><text x="1766" y="712.0" font-size="12" fill="#131722" font-weight="normal" text-anchor="start" textLength="29.3" lengthAdjust="spacingAndGlyphs" >1.200</text><text x="1766" y="749.4" font-size="12" fill="#131722" font-weight="normal" text-anchor="start" textLength="29.3" lengthAdjust="spacingAndGlyphs" >1.000</text><text x="1766" y="786.7" font-size="12" fill="#131722" font-weight="normal" text-anchor="start" textLength="29.3" lengthAdjust="spacingAndGlyphs" >0.800</text><text x="1766" y="824.1" font-size="12" fill="#131722" font-weight="normal" text-anchor="start" textLength="29.3" lengthAdjust="spacingAndGlyphs" >0.600</text><text x="110.0" y="874.8" font-size="12" fill="#131722" font-weight="normal" text-anchor="start" textLength="19.8" lengthAdjust="spacingAndGlyphs" >Feb</text><text x="211.4" y="874.8" font-size="12" fill="#131722" font-weight="normal" text-anchor="start" textLength="20.3" lengthAdjust="spacingAndGlyphs" >Mar</text><text x="325.2" y="874.8" font-size="12" fill="#131722" font-weight="normal" text-anchor="start" textLength="18.6" lengthAdjust="spacingAndGlyphs" >Apr</text><text x="433.1" y="874.8" font-size="12" fill="#131722" font-weight="normal" text-anchor="start" textLength="21.6" lengthAdjust="spacingAndGlyphs" >May</text><text x="547.8" y="874.8" font-size="12" fill="#131722" font-weight="normal" text-anchor="start" textLength="18.8" lengthAdjust="spacingAndGlyphs" >Jun</text><text x="658.6" y="874.8" font-size="12" fill="#131722" font-weight="normal" text-anchor="start" textLength="16.1" lengthAdjust="spacingAndGlyphs" >Jul</text><text x="769.0" y="874.8" font-size="12" fill="#131722" font-weight="normal" text-anchor="start" textLength="20.3" lengthAdjust="spacingAndGlyphs" >Aug</text><text x="882.6" y="874.8" font-size="12" fill="#131722" font-weight="normal" text-anchor="start" textLength="19.3" lengthAdjust="spacingAndGlyphs" >Sep</text><text x="992.0" y="874.8" font-size="12" fill="#131722" font-weight="normal" text-anchor="start" textLength="19.1" lengthAdjust="spacingAndGlyphs" >Oct</text><text x="1104.2" y="874.8" font-size="12" fill="#131722" font-weight="normal" text-anchor="start" textLength="21.0" lengthAdjust="spacingAndGlyphs" >Nov</text><text x="1214.0" y="874.8" font-size="12" fill="#131722" font-weight="normal" text-anchor="start" textLength="20.1" lengthAdjust="spacingAndGlyphs" >Dec</text><text x="1440.0" y="874.8" font-size="12" fill="#131722" font-weight="normal" text-anchor="start" textLength="19.8" lengthAdjust="spacingAndGlyphs" >Feb</text><text x="1541.5" y="874.8" font-size="12" fill="#131722" font-weight="normal" text-anchor="start" textLength="20.4" lengthAdjust="spacingAndGlyphs" >Mar</text><text x="1655.2" y="874.8" font-size="12" fill="#131722" font-weight="normal" text-anchor="start" textLength="19.0" lengthAdjust="spacingAndGlyphs" >Apr</text><text x="1323.1" y="874.8" font-size="12" fill="#131722" font-weight="bold" text-anchor="start" textLength="27.9" lengthAdjust="spacingAndGlyphs" >2022</text>
<!-- USDT badge -->
<rect x="1772.5" y="33.5" width="35" height="18" rx="4" ry="4" fill="#ffffff" stroke="#d1d4dc" stroke-width="1"/>
<text x="1776.2" y="46.9" font-size="12" fill="#131722" font-weight="normal" text-anchor="start" textLength="27.3" lengthAdjust="spacingAndGlyphs" >USDT</text>
<!-- last price labels -->
<path d="M1696 120H1755V137H1696a2 2 0 0 1 -2 -2V122a2 2 0 0 1 2 -2z" fill="#f23645"/>
<text x="1699.2" y="132.8" font-size="12" fill="#ffffff" font-weight="normal" text-anchor="start" textLength="50.4" lengthAdjust="spacingAndGlyphs"  stroke="#ffffff" stroke-width="0.45" stroke-linejoin="round">KNCUSDT</text>
<path d="M1756 120H1817a2 2 0 0 1 2 2V149a2 2 0 0 1 -2 2H1756z" fill="#f23645"/>
<text x="1765.3" y="132.8" font-size="12" fill="#ffffff" font-weight="normal" text-anchor="start" textLength="29.6" lengthAdjust="spacingAndGlyphs"  stroke="#ffffff" stroke-width="0.45" stroke-linejoin="round">4.301</text>
<text x="1765.6" y="146.7" font-size="12" fill="#fde0e3" font-weight="normal" text-anchor="start" textLength="46.5" lengthAdjust="spacingAndGlyphs" stroke="#fde0e3" stroke-width="0.25">07:56:06</text>
<!-- logo -->
<g fill="#d1d4dc">
<path d="M10 897h8v10h-4.2v-6H10z"/>
<circle cx="20.8" cy="899.2" r="1.9"/>
<path d="M25.2 897h4.3l-4 10h-4.3z"/>
</g>
<text x="33.2" y="906.8" font-size="13" fill="#d1d4dc" font-weight="normal" text-anchor="start" textLength="70.5" lengthAdjust="spacingAndGlyphs"  stroke="#d1d4dc" stroke-width="0.45" stroke-linejoin="round">TradingView</text>
</g>
</svg>
</body></html>
